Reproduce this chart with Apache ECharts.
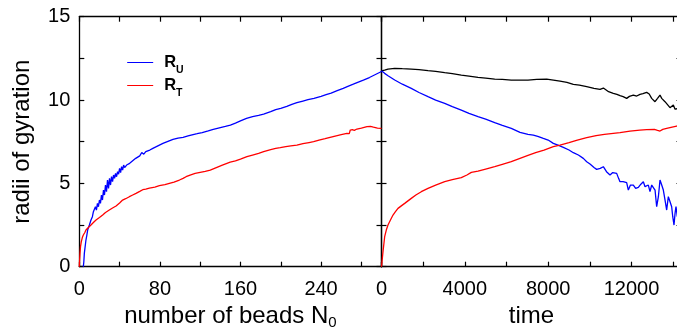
<!DOCTYPE html>
<html>
<head>
<meta charset="utf-8">
<script src="https://cdn.jsdelivr.net/npm/echarts@6.0.0/dist/echarts.min.js"></script>
<style>
  html, body { margin: 0; padding: 0; background: #fff; }
  #chart { width: 677px; height: 331px; }
</style>
</head>
<body>
<div id="chart"></div>
<script>
// growth phase: number of beads N0
const growUN = [4, 4.5, 5, 6, 6.6, 7.5, 8.3, 10, 11.6, 13, 14, 15, 16, 17, 18, 19, 20, 21, 22, 23, 24, 25, 26, 27, 28, 29, 30, 31, 32, 33, 34, 35, 36, 37, 38, 39, 40, 41, 42, 43, 44, 45, 47, 50, 53, 56, 60, 62, 64, 66, 70, 73, 78, 83, 88, 93, 98, 103, 108, 113, 117, 122, 128, 133, 140, 145, 150, 155, 160, 166, 172, 178, 183, 190, 195, 200, 206, 211, 216, 222, 227, 233, 240, 245, 250, 256, 262, 266, 272, 277, 282, 288, 293, 299, 300];
const growU = [0, 0.3, 0.8, 1.3, 1.6, 1.9, 2.2, 2.5, 2.8, 3.0, 3.3, 3.2, 3.6, 3.4, 3.8, 3.6, 4.0, 3.8, 4.3, 4.0, 4.6, 4.3, 4.9, 4.5, 5.2, 4.7, 5.3, 4.9, 5.4, 5.1, 5.5, 5.3, 5.6, 5.4, 5.7, 5.55, 5.9, 5.65, 6.0, 5.8, 6.1, 5.95, 6.1, 6.2, 6.35, 6.5, 6.65, 6.85, 6.75, 6.9, 7.0, 7.1, 7.25, 7.4, 7.52, 7.64, 7.72, 7.76, 7.85, 7.93, 7.98, 8.05, 8.15, 8.24, 8.35, 8.42, 8.5, 8.62, 8.75, 8.9, 9.0, 9.08, 9.16, 9.3, 9.42, 9.5, 9.62, 9.74, 9.84, 9.94, 10.02, 10.1, 10.22, 10.32, 10.42, 10.56, 10.7, 10.8, 10.95, 11.08, 11.2, 11.35, 11.5, 11.68, 11.72];

const growTN = [0, 0.3, 0.7, 1.2, 2, 3, 4, 5.5, 6.6, 9, 11.6, 14, 16.6, 20, 23.2, 26, 29.8, 33, 36.5, 40, 43, 46, 49.7, 53, 56.3, 60, 63, 66, 69.6, 75, 79.5, 85, 89.4, 94, 99.4, 103, 106, 110, 115, 120, 125, 130, 136, 142, 149.8, 155, 160, 166.4, 172, 178, 183, 190, 195, 199.5, 205, 210, 216, 222, 228, 232.6, 238, 244, 249, 255, 260, 265.7, 267, 268, 269, 270, 271, 273, 275.6, 280, 285.6, 289, 292, 296, 300];
const growT = [0, 0.4, 0.8, 1.2, 1.5, 1.75, 1.9, 2.05, 2.2, 2.35, 2.5, 2.65, 2.8, 2.95, 3.1, 3.25, 3.4, 3.52, 3.64, 3.82, 4.0, 4.08, 4.2, 4.3, 4.4, 4.52, 4.62, 4.66, 4.72, 4.78, 4.86, 4.92, 5.0, 5.08, 5.2, 5.3, 5.4, 5.5, 5.6, 5.66, 5.72, 5.8, 5.95, 6.1, 6.28, 6.35, 6.45, 6.6, 6.7, 6.8, 6.9, 7.02, 7.1, 7.14, 7.2, 7.25, 7.3, 7.38, 7.45, 7.5, 7.6, 7.68, 7.76, 7.85, 7.92, 8.0, 8.1, 7.98, 8.2, 8.08, 8.22, 8.18, 8.26, 8.32, 8.4, 8.42, 8.37, 8.32, 8.3];

// relaxation phase: time
const relaxGT = [0, 150, 312, 634, 1000, 1430, 1800, 2232, 2600, 3034, 3400, 3830, 4200, 4632, 5000, 5434, 5800, 6230, 6648, 7032, 7450, 7930, 8250, 8568, 8900, 9208, 9500, 9850, 10200, 10488, 10650, 10900, 11126, 11300, 11448, 11600, 11768, 11900, 12088, 12250, 12408, 12550, 12728, 12850, 12968, 13050, 13128, 13250, 13368, 13450, 13608, 13700, 13848, 13930, 14008, 14090, 14168, 14250];
const relaxG = [11.75, 11.8, 11.86, 11.9, 11.88, 11.86, 11.82, 11.76, 11.72, 11.64, 11.58, 11.5, 11.44, 11.36, 11.32, 11.26, 11.24, 11.2, 11.2, 11.2, 11.24, 11.26, 11.2, 11.14, 11.06, 10.94, 10.9, 10.8, 10.7, 10.64, 10.72, 10.5, 10.4, 10.34, 10.26, 10.2, 10.1, 10.22, 10.3, 10.24, 10.34, 10.38, 10.46, 10.36, 10.1, 10.2, 9.9, 10.1, 10.3, 10.1, 9.9, 9.8, 9.54, 9.66, 9.7, 9.45, 9.4, 9.5];

const relaxUT = [0, 150, 312, 634, 1000, 1430, 1800, 2232, 2600, 3034, 3400, 3830, 4200, 4632, 5000, 5434, 5800, 6230, 6648, 7032, 7288, 7500, 7768, 8000, 8248, 8500, 8728, 9000, 9208, 9450, 9688, 9850, 10008, 10200, 10328, 10500, 10648, 10800, 10968, 11100, 11288, 11380, 11448, 11600, 11768, 11848, 11950, 12088, 12200, 12328, 12450, 12568, 12650, 12808, 12888, 12970, 13048, 13130, 13208, 13290, 13368, 13450, 13528, 13610, 13688, 13768, 13850, 13928, 13980, 14040, 14090, 14136, 14200, 14250];
const relaxU = [11.75, 11.6, 11.46, 11.2, 10.95, 10.7, 10.45, 10.2, 10.0, 9.8, 9.6, 9.4, 9.2, 9.0, 8.85, 8.64, 8.48, 8.3, 8.06, 7.94, 7.9, 7.82, 7.7, 7.6, 7.4, 7.28, 7.16, 7.0, 6.84, 6.7, 6.5, 6.3, 6.16, 5.95, 5.84, 5.9, 6.0, 5.7, 5.5, 5.65, 5.6, 5.3, 5.1, 5.1, 5.04, 4.6, 4.9, 4.9, 4.7, 4.76, 4.95, 5.1, 4.8, 4.9, 4.5, 4.9, 5.0, 4.6, 3.6, 4.2, 5.2, 4.9, 4.6, 4.0, 3.4, 4.2, 3.9, 3.6, 3.0, 2.5, 3.2, 3.6, 3.0, 3.3];

const relaxTT = [0, 24, 72, 152, 230, 312, 430, 552, 670, 792, 950, 1113, 1270, 1430, 1650, 1910, 2232, 2600, 3034, 3400, 3830, 4100, 4312, 4632, 5000, 5434, 5800, 6230, 6648, 7032, 7400, 7800, 8248, 8568, 9000, 9400, 9850, 10300, 10700, 11126, 11448, 11928, 12400, 12728, 13100, 13250, 13368, 13500, 13688, 13950, 14168, 14250];
const relaxT = [0, 0.3, 0.9, 1.8, 2.2, 2.5, 2.8, 3.1, 3.3, 3.5, 3.65, 3.8, 3.95, 4.1, 4.3, 4.5, 4.7, 4.9, 5.1, 5.22, 5.34, 5.5, 5.66, 5.74, 5.86, 6.0, 6.14, 6.3, 6.5, 6.68, 6.84, 7.0, 7.2, 7.3, 7.45, 7.6, 7.74, 7.86, 7.94, 8.0, 8.04, 8.14, 8.2, 8.22, 8.24, 8.18, 8.14, 8.24, 8.3, 8.38, 8.44, 8.46];

const xTicksLeft = [0, 80, 160, 240];
const xTicksRight = [0, 4000, 8000, 12000];
const yTicks = [0, 5, 10, 15];

const FONT = "'Liberation Sans', Arial, Helvetica, sans-serif";
const BLUE = '#0000ff';
const RED = '#ff0000';
const zip = (xs, ys) => xs.map((x, i) => [x, ys[i]]);

const chart = echarts.init(document.getElementById('chart'), null, { renderer: 'canvas' });

const frame = { show: true, onZero: false, lineStyle: { color: '#000', width: 1.3 } };
const tick = { show: true, inside: true, length: 5, lineStyle: { color: '#000', width: 1.2 } };

function xAx(grid, pos, max, interval, labels, name) {
  return {
    type: 'value', gridIndex: grid, position: pos, min: 0, max: max, interval: interval,
    axisLine: frame, axisTick: tick, splitLine: { show: false },
    axisLabel: {
      show: !!labels, margin: 13, fontSize: 20, color: '#000', fontFamily: FONT,
      formatter: v => (labels && labels.indexOf(v) >= 0 ? String(v) : '')
    },
    name: name || '', nameLocation: 'middle', nameGap: 36,
    nameTextStyle: {
      fontFamily: FONT, color: '#000', fontSize: 24,
      rich: {
        a: { fontFamily: FONT, fontSize: 24, color: '#000', lineHeight: 27, verticalAlign: 'middle' },
        s: { fontFamily: FONT, fontSize: 15, color: '#000', lineHeight: 15, verticalAlign: 'bottom' }
      }
    }
  };
}

function yAx(grid, pos, labels, name) {
  return {
    type: 'value', gridIndex: grid, position: pos, min: 0, max: 15, interval: 2.5,
    axisLine: frame, axisTick: tick, splitLine: { show: false },
    axisLabel: {
      show: !!labels, margin: 9, fontSize: 20, color: '#000', fontFamily: FONT,
      formatter: v => (labels && labels.indexOf(v) >= 0 ? String(v) : '')
    },
    name: name || '', nameLocation: 'middle', nameGap: 45,
    nameTextStyle: { fontFamily: FONT, color: '#000', fontSize: 24 }
  };
}

function line(name, xi, yi, data, color) {
  return {
    name: name, type: 'line', xAxisIndex: xi, yAxisIndex: yi, data: data,
    symbol: 'none', silent: true, animation: false,
    lineStyle: { color: color, width: 1.3 }, itemStyle: { color: color }
  };
}

const option = {
  backgroundColor: '#fff',
  animation: false,
  grid: [
    { left: 79.3, top: 16.7, width: 302.2, height: 250, outerBoundsMode: 'none', containLabel: false },
    { left: 381.5, top: 16.7, width: 300, height: 250, outerBoundsMode: 'none', containLabel: false }
  ],
  legend: {
    data: [
      { name: 'RU', lineStyle: { color: BLUE, width: 1 }, itemStyle: { color: BLUE, opacity: 0 } },
      { name: 'RT', lineStyle: { color: RED, width: 1 }, itemStyle: { color: RED, opacity: 0 } }
    ],
    orient: 'vertical',
    left: 126.7, top: 54,
    padding: 0,
    itemWidth: 26, itemHeight: 14, itemGap: 1.7,
    itemStyle: { opacity: 0 },
    selectedMode: false,
    formatter: n => (n === 'RU' ? '{sp|}{r|R}{s|U}' : '{sp|}{r|R}{s|T}'),
    textStyle: {
      fontFamily: FONT, color: '#000', fontSize: 16, fontWeight: 'bold',
      rich: {
        sp: { width: 6 },
        r: { fontFamily: FONT, fontSize: 16.5, fontWeight: 'bold', color: '#000', lineHeight: 25.6, verticalAlign: 'middle' },
        s: { fontFamily: FONT, fontSize: 10.5, fontWeight: 'bold', color: '#000', lineHeight: 10, verticalAlign: 'bottom' }
      }
    }
  },
  xAxis: [
    xAx(0, 'bottom', 300, 40, xTicksLeft, '{a|number of beads N}{s|0}'),
    xAx(0, 'top', 300, 40, null),
    xAx(1, 'bottom', 14400, 2000, xTicksRight, '{a|time}'),
    xAx(1, 'top', 14400, 2000, null)
  ],
  yAxis: [
    yAx(0, 'left', yTicks, 'radii of gyration'),
    yAx(0, 'right', null),
    yAx(1, 'left', null),
    yAx(1, 'right', null)
  ],
  series: [
    line('RU', 0, 0, zip(growUN, growU), BLUE),
    line('RT', 0, 0, zip(growTN, growT), RED),
    line('Rg', 2, 2, zip(relaxGT, relaxG), '#000000'),
    line('RU', 2, 2, zip(relaxUT, relaxU), BLUE),
    line('RT', 2, 2, zip(relaxTT, relaxT), RED)
  ]
};

chart.setOption(option);
</script>
</body>
</html>
